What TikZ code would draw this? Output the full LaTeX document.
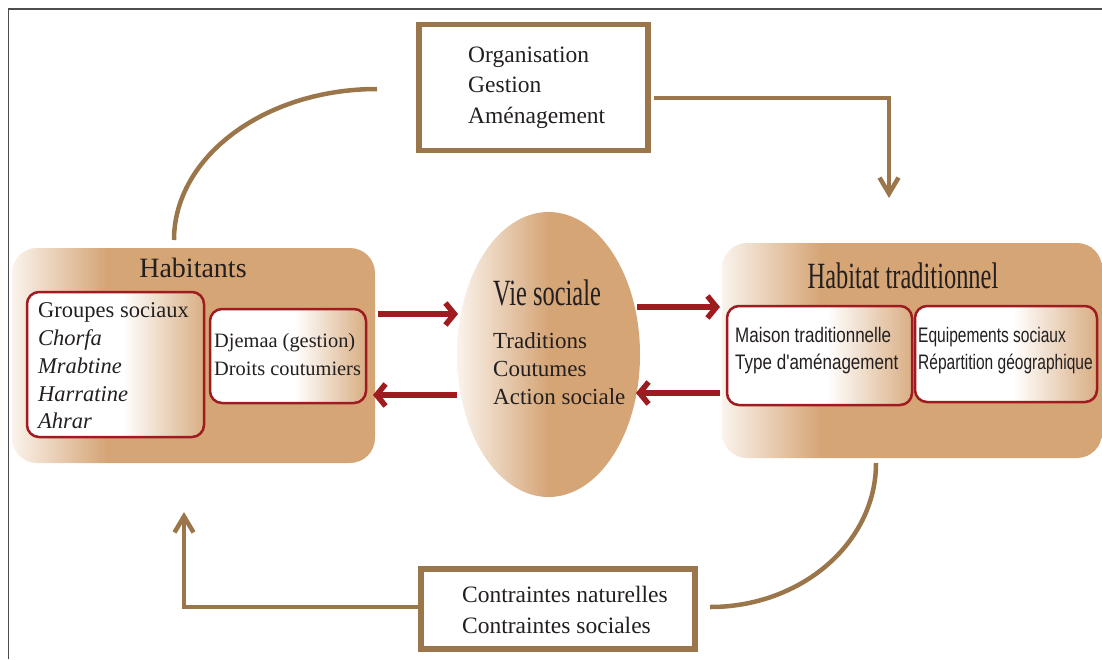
\documentclass[tikz,border=0pt]{standalone}
\usepackage{fontspec}
\setmainfont{Liberation Serif}
\newfontfamily\condserif[FakeStretch=0.66]{Liberation Serif}
\newfontfamily\condsansA[FakeStretch=0.81]{Liberation Sans}
\newfontfamily\condsansB[FakeStretch=0.74]{Liberation Sans}
\usetikzlibrary{arrows.meta,shapes.geometric}
\definecolor{tanc}{RGB}{213,165,118}
\definecolor{lightc}{RGB}{250,243,236}
\definecolor{brownc}{RGB}{155,118,74}
\definecolor{redc}{RGB}{158,27,32}
\definecolor{textc}{RGB}{35,31,32}
\definecolor{framec}{RGB}{77,77,77}
\pgfdeclarehorizontalshading{outerfade}{100bp}{color(0bp)=(lightc); color(25bp)=(lightc); color(38bp)=(tanc); color(100bp)=(tanc)}
\pgfdeclarehorizontalshading{ellfade}{100bp}{color(0bp)=(lightc); color(25bp)=(lightc); color(50bp)=(tanc); color(100bp)=(tanc)}
\pgfdeclarehorizontalshading{innerfade}{100bp}{color(0bp)=(white); color(25bp)=(white); color(52bp)=(white); color(75bp)=(tanc!90); color(100bp)=(tanc!90)}
\begin{document}
\begin{tikzpicture}[x=1pt,y=-1pt,
  outerbox/.style={rounded corners=25pt, shading=outerfade, inner sep=0pt, outer sep=0pt},
  innerbox/.style={rounded corners=12pt, shading=innerfade, draw=redc, line width=2.5pt, inner sep=0pt, outer sep=0pt},
  plainbox/.style={draw=brownc, fill=white, line width=5.5pt, inner sep=0pt, outer sep=0pt},
  txt/.style={inner sep=0pt, anchor=base west, text=textc},
  serifA/.style={txt, font=\fontsize{23.5}{28}\selectfont},
  serifB/.style={txt, font=\fontsize{22.5}{27}\selectfont},
  serifC/.style={txt, font=\fontsize{20.4}{24}\selectfont},
  serifD/.style={txt, font=\fontsize{23}{27}\selectfont},
  sansA/.style={txt, font=\condsansA\fontsize{21}{25}\selectfont},
  sansB/.style={txt, font=\condsansB\fontsize{21}{25}\selectfont},
  redarrow/.style={draw=redc, line width=5.5pt, -{Straight Barb[length=9pt,width=22pt]}},
  brownline/.style={draw=brownc, line width=4.5pt},
  brownarrow/.style={brownline, -{Straight Barb[length=16pt,width=19pt]}}
]
\useasboundingbox (0,0) rectangle (1102,659);
\draw[framec, line width=1.5pt] (8.5,659) -- (8.5,9) -- (1102,9);

% main blocks
\node[outerbox, minimum width=363pt, minimum height=215pt] (hab) at (193.5,355.5) {};
\node[outerbox, minimum width=380pt, minimum height=215pt] (hat) at (912,350.5) {};
\node[ellipse, shading=ellfade, minimum width=183pt, minimum height=285pt, inner sep=0pt, outer sep=0pt] (vie) at (548.5,354.5) {};
\node[innerbox, minimum width=177pt, minimum height=145pt] (grp) at (115.5,364.5) {};
\node[innerbox, minimum width=156pt, minimum height=94pt] (dje) at (288,356) {};
\node[innerbox, minimum width=185pt, minimum height=99pt] (mai) at (819.5,355.5) {};
\node[innerbox, minimum width=182pt, minimum height=96pt] (equ) at (1006,354) {};
\node[plainbox, minimum width=229pt, minimum height=126pt] (org) at (533.5,87.5) {};
\node[plainbox, minimum width=274pt, minimum height=80pt] (con) at (558,609) {};

% texts
\node[txt, anchor=base, font=\fontsize{28}{32}\selectfont] (habt) at (193,277) {Habitants};
\node[serifB] (g1) at (38,317) {Groupes sociaux};
\node[serifB] (g2) at (38,345) {\itshape Chorfa};
\node[serifB] (g3) at (38,373) {\itshape Mrabtine};
\node[serifB] (g4) at (38,401) {\itshape Harratine};
\node[serifB] (g5) at (38,428) {\itshape Ahrar};
\node[serifC] (d1) at (214,347) {Djemaa (gestion)};
\node[serifC] (d2) at (214,375) {Droits coutumiers};
\node[txt, font=\condserif\fontsize{37}{40}\selectfont] (viet) at (493,305) {Vie sociale};
\node[serifD] (v1) at (493,348) {Traditions};
\node[serifD] (v2) at (493,376) {Coutumes};
\node[serifD] (v3) at (493,404) {Action sociale};
\node[txt, anchor=base, font=\condserif\fontsize{37}{40}\selectfont] (hatt) at (903,288) {Habitat traditionnel};
\node[sansA] (m1) at (735,342) {Maison traditionnelle};
\node[sansA] (m2) at (735,369) {Type d'aménagement};
\node[sansB] (e1) at (918,342) {Equipements sociaux};
\node[sansB] (e2) at (918,369) {Répartition géographique};
\node[serifA] (o1) at (468,62) {Organisation};
\node[serifA] (o2) at (468,92) {Gestion};
\node[serifA] (o3) at (468,123) {Aménagement};
\node[serifA] (c1) at (462,602) {Contraintes naturelles};
\node[serifA] (c2) at (462,633) {Contraintes sociales};

% red arrows
\draw[redarrow] ([xshift=3pt,yshift=41.5pt]hab.east) -- ([xshift=1pt,yshift=40.5pt]vie.west);
\draw[redarrow] ([yshift=-40.5pt]vie.west) -- ([xshift=-2pt,yshift=-39.5pt]hab.east);
\draw[redarrow] ([xshift=-3pt,yshift=47.5pt]vie.east) -- ([xshift=-2pt,yshift=43.5pt]hat.west);
\draw[redarrow] ([xshift=-2pt,yshift=-42.5pt]hat.west) -- ([xshift=-4pt,yshift=-38.5pt]vie.east);

% brown connectors
\draw[brownarrow] ([xshift=6pt,yshift=-10.5pt]org.east) -| ([xshift=-23pt,yshift=45pt]hat.north);
\draw[brownline] ([xshift=-42pt,yshift=-1.5pt]org.west) .. controls +(-112,0) and +(0,-83.4) .. ([xshift=-19.5pt,yshift=8pt]hab.north);
\draw[brownline] ([xshift=-36pt,yshift=-5pt]hat.south) .. controls +(0,79.5) and +(91.7,0) .. ([xshift=15pt,yshift=2pt]con.east);
\draw[brownarrow] ([yshift=2pt]con.west) -| ([xshift=-9.5pt,yshift=-49pt]hab.south);
\end{tikzpicture}
\end{document}
